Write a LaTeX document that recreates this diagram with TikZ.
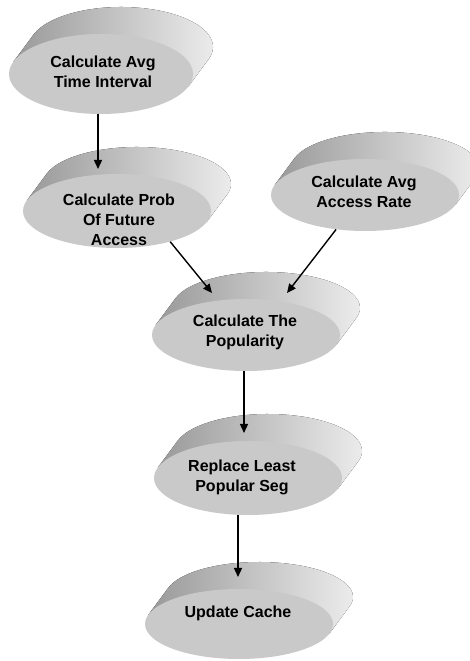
\documentclass[tikz,border=0pt]{standalone}
\usepackage{fontspec}
\setmainfont{Liberation Sans}
\usetikzlibrary{arrows.meta,shapes.geometric}
\definecolor{facegray}{RGB}{201,201,201}
\tikzset{
  discside/.style={left color=black!40, right color=black!6, draw=none},
  disctext/.style={align=center, font=\fontsize{16}{20}\selectfont\bfseries, inner sep=0pt},
  conn/.style={line width=1.4pt, -{Triangle[length=9pt,width=8pt]}},
}
% name, cx, cy, x radius, y radius, text x, text y, text
\newcommand{\discnode}[8]{%
  \pgfmathsetmacro{\tang}{atan(-#5*20/(#4*27))}%
  \pgfmathsetmacro{\tangb}{\tang+180}%
  \fill[discside] ([shift={(\tang:#4pt and #5pt)}]#2pt,#3pt) -- ++(20pt,27pt)
     arc[start angle=\tang, end angle=\tangb, x radius=#4pt, y radius=#5pt]
     -- ++(-20pt,-27pt) -- cycle;
  \node[ellipse, minimum width=2*#4pt, minimum height=2*#5pt, inner sep=0pt,
        fill=facegray, draw=none] (#1) at (#2pt,#3pt) {};
  \node[disctext] (#1-t) at (#6pt,#7pt) {#8};
}
\begin{document}
\begin{tikzpicture}[x=1pt,y=1pt]
\useasboundingbox (0,0) rectangle (470,661);
\clip (0,0) rectangle (470,661);
\fill[white] (0,0) rectangle (470,661);
\discnode{n1}{101}{587}{92}{40}{103}{589}{Calculate Avg\\Time Interval}
\discnode{n2}{117}{450}{94}{37}{119}{441}{Calculate Prob\\Of Future\\Access}
\discnode{n3}{365}{466}{94}{36}{364}{469}{Calculate Avg\\Access Rate}
\discnode{n4}{246}{326}{94}{36}{245}{329}{Calculate The\\Popularity}
\discnode{n5}{248}{183}{94}{37}{242}{184}{Replace Least\\Popular Seg}
\discnode{n6}{239}{37}{94}{35}{238}{48}{Update Cache}
\coordinate (a12) at (98,492);
\coordinate (a24) at (212,368);
\coordinate (a34) at (287,368);
\coordinate (a45) at (244,228);
\coordinate (a56) at (238,84);
\draw[conn] (a12 |- n1.south) -- (a12);
\draw[conn] (n2.-30) -- (a24);
\draw[conn] (n3.-130) -- (a34);
\draw[conn] (a45 |- n4.south) -- (a45);
\draw[conn] (a56 |- n5.south) -- (a56);
\end{tikzpicture}
\end{document}
